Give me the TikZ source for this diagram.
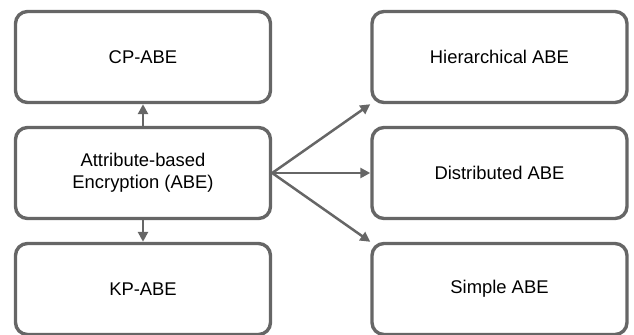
\documentclass[tikz,border=0pt]{standalone}
\usepackage{fontspec}
\setmainfont{Liberation Sans}
\usetikzlibrary{arrows.meta}
\definecolor{edgegray}{HTML}{666666}
\begin{document}
\begin{tikzpicture}[x=0.5pt,y=-0.5pt,
	box/.style={draw=edgegray,line width=1.7pt,rounded corners=6pt,fill=white,
		minimum width=127.5pt,minimum height=45.5pt,align=center,
		font=\fontsize{9.2}{11.2}\selectfont},
	link/.style={draw=edgegray,line width=1.25pt,-{Triangle[length=5pt,width=5pt]}}]
	\useasboundingbox (0,0) rectangle (634,334);
	\node[box] (cp) at (143,57){CP-ABE};
	\node[box] (abe) at (143,173){Attribute-based\\Encryption (ABE)};
	\node[box] (kp) at (143,289){KP-ABE};
	\node[box] (hier) at (499.5,57){Hierarchical ABE};
	\node[box] (dist) at (499.5,173){Distributed ABE};
	\node[box] (simple) at (499.5,289){Simple ABE};
	\draw[link] (abe.north)--(cp.south);
	\draw[link] (abe.south)--(kp.north);
	\draw[link] (abe.east)--(hier.south west);
	\draw[link] (abe.east)--(dist.west);
	\draw[link] (abe.east)--(simple.north west);
\end{tikzpicture}
\end{document}
